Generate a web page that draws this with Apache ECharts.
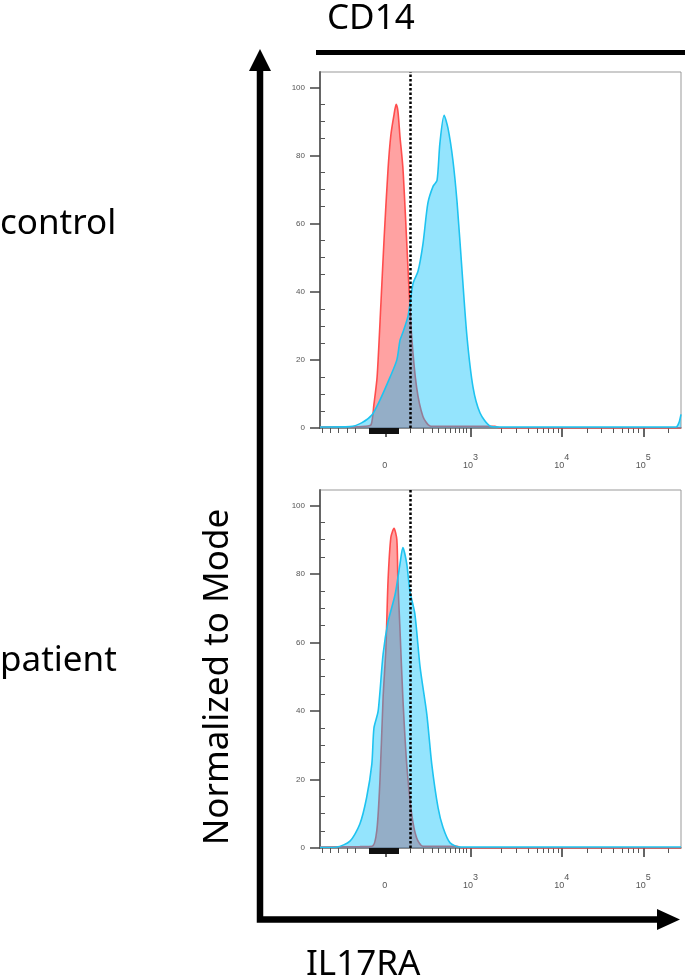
<!DOCTYPE html>
<html>
<head>
<meta charset="utf-8">
<script src="https://cdn.jsdelivr.net/npm/echarts@6/dist/echarts.min.js"></script>
<style>
  html, body { margin: 0; padding: 0; background: #fff; }
  #chart { width: 685px; height: 980px; }
</style>
</head>
<body>
<div id="chart"></div>
<script>
// x values are display channels of the biexponential axis (0..1024)
const controlRedX = [0, 85, 128, 145, 153, 162, 173, 182, 193, 201, 210, 216, 221, 227, 235, 243, 250, 260, 274, 292, 312, 340, 496, 511, 1024];
const controlRedY = [0.3, 0.3, 0.5, 1, 7, 15, 37, 56, 76, 86, 92, 95, 93, 85.4, 76.6, 61, 46, 27, 12, 3.4, 0.6, 0.5, 0.5, 0, 0];
const controlBlueX = [0, 85, 118, 147, 170, 199, 218, 227, 235, 250, 264, 278, 292, 306, 321, 332, 340, 352, 363, 377, 389, 403, 417, 434, 454, 482, 511, 1010, 1018, 1024];
const controlBlueY = [0.3, 0.4, 1.5, 3.8, 8.2, 15, 20, 25.8, 28, 33, 42.5, 46, 54, 66, 71, 72.7, 83.5, 91.8, 88, 78.6, 66, 46, 26.7, 12, 4.4, 0.6, 0.3, 0.3, 1.5, 4];
const patientRedX = [0, 113, 148, 161, 170, 179, 187, 193, 201, 210, 218, 221, 227, 235, 246, 260, 274, 292, 389, 403, 1024];
const patientRedY = [0.3, 0.4, 0.5, 5, 19.6, 44, 58.5, 78, 90.7, 93.3, 90, 78, 63.5, 44, 24.5, 10, 3, 0.5, 0.5, 0, 0];
const patientBlueX = [0, 47, 85, 113, 132, 147, 153, 165, 179, 193, 213, 227, 235, 246, 255, 269, 284, 303, 317, 335, 349, 369, 397, 1024];
const patientBlueY = [0.2, 0.3, 2, 7, 14.6, 24.5, 35, 40, 56.6, 66, 74, 83, 87.7, 83, 75, 68.4, 52.7, 39, 24.5, 11.7, 6, 1.5, 0.3, 0.3];

const thresholdX = 255;

const xMajorTicks = [187, 427, 686, 917];
const xMajorBase = ['0', '10', '10', '10'];
const xMajorExp = ['', '3', '4', '5'];
const xMinorTicks = [6, 28, 52, 76, 99, 255, 293, 317, 336, 355, 369, 383, 395, 407, 416, 513, 558, 590, 615, 633, 647, 661, 675, 757, 799, 831, 856, 874, 888, 902, 987];
const xDenseTicks = [142, 149, 156, 163, 170, 177, 184, 192, 199, 206, 213, 220];
const yMajorTicks = [0, 20, 40, 60, 80, 100];
const yMinorTicks = [5, 10, 15, 25, 30, 35, 45, 50, 55, 65, 70, 75, 85, 90, 95];

const X_MAX = 1024;
const Y_MAX = 104.5;
const LABEL_FONT = 'Liberation Sans, Arial, sans-serif';
const BIG_FONT = '35px "Noto Sans", "Open Sans", sans-serif';

const pairs = (xs, ys) => xs.map((x, i) => [x, ys[i]]);

function xLabel(v) {
  const i = xMajorTicks.findIndex(t => Math.abs(t - v) < 0.5);
  if (i < 0) return '';
  return '{b|' + xMajorBase[i] + '}{s|' + (xMajorExp[i] || ' ') + '}';
}

function xAxesFor(gridIndex) {
  return [
    {
      gridIndex, type: 'value', min: 0, max: X_MAX, position: 'bottom',
      splitLine: { show: false },
      axisLine: { show: true, lineStyle: { color: '#777', width: 1.5 } },
      axisTick: { show: true, inside: false, length: 9, customValues: xMajorTicks, lineStyle: { color: '#333', width: 1.5 } },
      axisLabel: {
        show: true, customValues: xMajorTicks, margin: 25, formatter: xLabel,
        rich: {
          b: { fontSize: 9, color: '#555', fontFamily: LABEL_FONT, verticalAlign: 'bottom' },
          s: { fontSize: 9, color: '#555', fontFamily: LABEL_FONT, verticalAlign: 'top', padding: [0, 0, 8, 0] }
        }
      }
    },
    {
      gridIndex, type: 'value', min: 0, max: X_MAX, position: 'bottom',
      splitLine: { show: false }, axisLine: { show: false }, axisLabel: { show: false },
      axisTick: { show: true, inside: false, length: 5, customValues: xMinorTicks, lineStyle: { color: '#555', width: 1 } }
    },
    {
      gridIndex, type: 'value', min: 0, max: X_MAX, position: 'bottom',
      splitLine: { show: false }, axisLine: { show: false }, axisLabel: { show: false },
      axisTick: { show: true, inside: false, length: 6, customValues: xDenseTicks, lineStyle: { color: '#111', width: 3 } }
    }
  ];
}

function yAxesFor(gridIndex) {
  return [
    {
      gridIndex, type: 'value', min: 0, max: Y_MAX,
      splitLine: { show: false },
      axisLine: { show: true, lineStyle: { color: '#666', width: 2 } },
      axisTick: { show: true, inside: false, length: 10, customValues: yMajorTicks, lineStyle: { color: '#444', width: 1.5 } },
      axisLabel: { show: true, customValues: yMajorTicks, margin: 15, fontSize: 8, color: '#555', fontFamily: LABEL_FONT }
    },
    {
      gridIndex, type: 'value', min: 0, max: Y_MAX,
      splitLine: { show: false }, axisLine: { show: false }, axisLabel: { show: false },
      axisTick: { show: true, inside: false, length: 5, customValues: yMinorTicks, lineStyle: { color: '#555', width: 1 } }
    }
  ];
}

function hist(name, xs, ys, fill, stroke, axisIndex, z, withCut) {
  const s = {
    name, type: 'line', xAxisIndex: axisIndex * 3, yAxisIndex: axisIndex * 2,
    data: pairs(xs, ys), showSymbol: false, symbol: 'none', smooth: 0.25, z,
    lineStyle: { color: stroke, width: 1.6 },
    areaStyle: { color: fill, opacity: 1 }
  };
  if (withCut) {
    s.markLine = {
      silent: true, symbol: ['none', 'none'], label: { show: false },
      lineStyle: { color: '#000', type: [2.5, 2], width: 2.5 },
      data: [{ xAxis: thresholdX }]
    };
  }
  return s;
}

const RED_FILL = 'rgba(255, 60, 60, 0.48)';
const RED_LINE = 'rgba(255, 70, 70, 0.95)';
const BLUE_FILL = 'rgba(0, 190, 250, 0.42)';
const BLUE_LINE = 'rgba(30, 195, 240, 1)';

const chart = echarts.init(document.getElementById('chart'), null, { renderer: 'canvas' });

chart.setOption({
  animation: false,
  backgroundColor: '#fff',
  grid: [
    { left: 320, top: 72, width: 361, height: 356, show: true, borderColor: '#999', borderWidth: 1, containLabel: false },
    { left: 320, top: 490, width: 361, height: 358, show: true, borderColor: '#999', borderWidth: 1, containLabel: false }
  ],
  xAxis: [...xAxesFor(0), ...xAxesFor(1)],
  yAxis: [...yAxesFor(0), ...yAxesFor(1)],
  series: [
    hist('control isotype', controlRedX, controlRedY, RED_FILL, RED_LINE, 0, 2, false),
    hist('control IL17RA', controlBlueX, controlBlueY, BLUE_FILL, BLUE_LINE, 0, 3, true),
    hist('patient isotype', patientRedX, patientRedY, RED_FILL, RED_LINE, 1, 2, false),
    hist('patient IL17RA', patientBlueX, patientBlueY, BLUE_FILL, BLUE_LINE, 1, 3, true)
  ],
  graphic: [
    { type: 'text', x: 327, y: 19, style: { text: 'CD14', font: BIG_FONT, fill: '#000', align: 'left', verticalAlign: 'middle', textAlign: 'left', textVerticalAlign: 'middle' } },
    { type: 'rect', shape: { x: 316, y: 50, width: 369, height: 5 }, style: { fill: '#000' } },
    { type: 'text', x: 0, y: 224, style: { text: 'control', font: BIG_FONT, fill: '#000', align: 'left', verticalAlign: 'middle', textAlign: 'left', textVerticalAlign: 'middle' } },
    { type: 'text', x: 0, y: 661, style: { text: 'patient', font: BIG_FONT, fill: '#000', align: 'left', verticalAlign: 'middle', textAlign: 'left', textVerticalAlign: 'middle' } },
    { type: 'text', x: 218, y: 677, rotation: Math.PI / 2, style: { text: 'Normalized to Mode', font: BIG_FONT, fill: '#000', align: 'center', verticalAlign: 'middle', textAlign: 'center', textVerticalAlign: 'middle' } },
    { type: 'text', x: 306, y: 965, style: { text: 'IL17RA', font: BIG_FONT, fill: '#000', align: 'left', verticalAlign: 'middle', textAlign: 'left', textVerticalAlign: 'middle' } },
    { type: 'polyline', shape: { points: [[260, 66], [260, 919.5], [660, 919.5]] }, style: { stroke: '#000', lineWidth: 6.5, fill: null, lineJoin: 'miter' } },
    { type: 'polygon', shape: { points: [[249, 71], [260, 49], [271, 71]] }, style: { fill: '#000' } },
    { type: 'polygon', shape: { points: [[657, 909], [680, 919.5], [657, 930]] }, style: { fill: '#000' } }
  ]
});
</script>
</body>
</html>
